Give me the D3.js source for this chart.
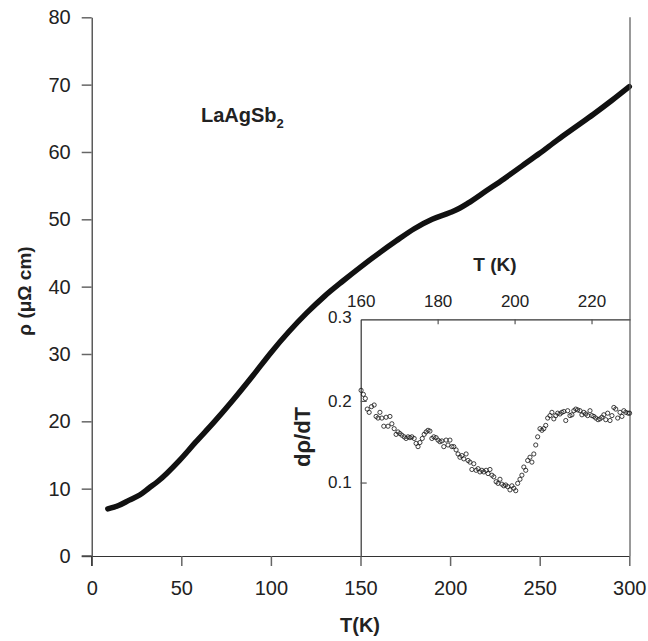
<!DOCTYPE html>
<html><head><meta charset="utf-8">
<script src="https://cdn.jsdelivr.net/npm/d3@7"></script>
<style>body{margin:0;background:#fff}svg{display:block}text{font-family:"Liberation Sans",Arial,sans-serif;fill:#222}</style>
</head><body><svg id="c" width="648" height="641"></svg>
<script>
// Main curve: resistivity vs temperature
const mainT   = [9,15,21,27,32,37,42,49,58,68,79,90,100,110,120,130,140,150,160,170,180,190,200,205,210,220,230,240,250,260,270,280,290,300];
const mainRho = [7.0,7.5,8.3,9.1,10.1,11.1,12.3,14.2,16.9,19.8,23.2,26.8,30.2,33.3,36.1,38.6,40.8,42.9,44.9,46.8,48.6,50.0,51.0,51.6,52.4,54.2,56.0,57.9,59.8,61.8,63.7,65.6,67.6,69.7];
const mainXTicks = [0,50,100,150,200,250,300];
const mainYTicks = [0,10,20,30,40,50,60,70,80];
// Inset: derivative
const insetT = [160.1,160.7,161.2,161.7,162.2,162.8,163.5,164,164.5,165,165.5,166,166.6,167.1,167.6,168.1,168.7,169.2,169.7,170.2,170.7,171.3,171.8,172.3,172.8,173.3,173.9,174.4,174.9,175.4,176,176.5,177,177.5,178,178.5,179,179.6,180.1,180.6,181.1,181.6,182.2,182.7,183.2,183.7,184.2,184.8,185.3,185.8,186.3,186.8,187.4,187.9,188.4,188.9,189.4,190,190.5,191,191.5,192,192.6,193.1,193.6,194.1,194.6,195.2,195.7,196.2,196.7,197.2,197.7,198.2,198.8,199.3,199.8,200.3,200.8,201.4,201.9,202.4,202.9,203.4,204,204.5,205,205.5,206,206.6,207.1,207.6,208.1,208.6,209.2,209.7,210.2,210.7,211.2,211.8,212.3,212.8,213.3,213.8,214.4,214.9,215.4,215.9,216.4,217,217.5,218,218.5,219,219.6,220.1,220.6,221.1,221.7,222.2,222.7,223.2,223.7,224.2,224.8,225.3,225.8,226.3,226.8,227.4,227.9,228.4,228.9,229.5,229.9];
const insetD = [0.213,0.208,0.203,0.190,0.186,0.193,0.195,0.181,0.179,0.186,0.179,0.169,0.180,0.169,0.181,0.172,0.166,0.159,0.162,0.160,0.158,0.156,0.154,0.156,0.155,0.156,0.154,0.148,0.144,0.149,0.154,0.159,0.162,0.164,0.163,0.154,0.156,0.155,0.152,0.150,0.151,0.144,0.152,0.146,0.152,0.144,0.144,0.140,0.135,0.131,0.133,0.129,0.135,0.127,0.125,0.116,0.123,0.115,0.117,0.113,0.115,0.113,0.115,0.111,0.116,0.109,0.107,0.101,0.099,0.104,0.098,0.096,0.097,0.095,0.091,0.096,0.093,0.090,0.099,0.104,0.109,0.119,0.115,0.127,0.131,0.125,0.135,0.146,0.156,0.166,0.164,0.166,0.170,0.179,0.182,0.186,0.178,0.182,0.185,0.184,0.186,0.187,0.176,0.188,0.182,0.183,0.188,0.190,0.189,0.188,0.183,0.186,0.184,0.182,0.188,0.182,0.181,0.179,0.177,0.178,0.180,0.183,0.177,0.185,0.176,0.182,0.192,0.190,0.179,0.186,0.181,0.188,0.186,0.185,0.185];
const insetXTicks = [160,180,200,220];
const insetYTicks = [0.1,0.2,0.3];

const svg = d3.select("#c");
const x = d3.scaleLinear().domain([0,300]).range([91.7,629.3]);
const y = d3.scaleLinear().domain([0,80]).range([556,17.3]);

// main axes
const gx = svg.append("g").attr("transform","translate(0,556)")
  .call(d3.axisBottom(x).tickValues(mainXTicks).tickSize(10).tickPadding(15).tickSizeOuter(0));
const gy = svg.append("g").attr("transform","translate(91.7,0)")
  .call(d3.axisLeft(y).tickValues(mainYTicks).tickSize(10).tickPadding(11).tickSizeOuter(0));
[gx,gy].forEach(g=>{
  g.select(".domain").attr("stroke","#333").attr("stroke-width",1.2);
  g.selectAll(".tick line").attr("stroke","#666").attr("stroke-width",1.5);
  g.selectAll(".tick text").attr("font-size",20).attr("fill","#222").style("font-family","Liberation Sans, Arial, sans-serif");
});
// extend axis lines
svg.append("line").attr("x1",81.7).attr("x2",91.7).attr("y1",556).attr("y2",556).attr("stroke","#333").attr("stroke-width",1.2);
svg.append("line").attr("x1",91.7).attr("x2",91.7).attr("y1",556).attr("y2",566).attr("stroke","#333").attr("stroke-width",1.2);

// main curve
const line = d3.line().x((d,i)=>x(mainT[i])).y((d,i)=>y(mainRho[i])).curve(d3.curveMonotoneX);
svg.append("path").attr("d",line(mainT)).attr("fill","none").attr("stroke","#111")
  .attr("stroke-width",5.5).attr("stroke-linecap","round");

// labels
svg.append("text").attr("x",360).attr("y",632).attr("text-anchor","middle")
  .attr("font-size",20).attr("font-weight","bold").text("T(K)");
svg.append("text").attr("transform","translate(31,291) rotate(-90)").attr("text-anchor","middle")
  .attr("font-size",19).attr("font-weight","bold").text("ρ (μΩ cm)");
const lab = svg.append("text").attr("x",201).attr("y",122).attr("font-size",20).attr("font-weight","bold");
lab.append("tspan").text("LaAgSb");
lab.append("tspan").attr("dy",6).attr("font-size",13).text("2");

// inset
const ix = d3.scaleLinear().domain([160,230]).range([360.7,630]);
const iy = d3.scaleLinear().domain([0.01,0.3]).range([556,319.3]);
const gix = svg.append("g").attr("transform","translate(0,319.3)")
  .call(d3.axisTop(ix).tickValues(insetXTicks).tickSize(-5).tickPadding(12).tickSizeOuter(0));
const giy = svg.append("g").attr("transform","translate(360.7,0)")
  .call(d3.axisLeft(iy).tickValues(insetYTicks).tickFormat(d3.format(".1f")).tickSize(-6).tickPadding(9).tickSizeOuter(0));
[gix,giy].forEach(g=>{
  g.select(".domain").attr("stroke","#333").attr("stroke-width",1.2);
  g.selectAll(".tick line").attr("stroke","#555").attr("stroke-width",1.2);
  g.selectAll(".tick text").attr("font-size",17).attr("fill","#222").style("font-family","Liberation Sans, Arial, sans-serif");
});
gix.selectAll(".tick").filter(d=>d===160).select("line").remove();
giy.selectAll(".tick").filter(d=>d===0.3).select("line").remove();
giy.selectAll(".tick").filter(d=>d===0.3).select("text").attr("dy","0.2em");
// right border line
svg.append("line").attr("x1",630).attr("x2",630).attr("y1",17.3).attr("y2",556).attr("stroke","#555").attr("stroke-width",1.2);

svg.append("g").selectAll("circle").data(insetT).join("circle")
  .attr("cx",(d)=>ix(d)).attr("cy",(d,i)=>iy(insetD[i])).attr("r",2.1)
  .attr("fill","none").attr("stroke","#111").attr("stroke-width",0.8);

svg.append("text").attr("x",495).attr("y",271).attr("text-anchor","middle")
  .attr("font-size",19).attr("font-weight","bold").text("T (K)");
svg.append("text").attr("transform","translate(310,437) rotate(-90)").attr("text-anchor","middle")
  .attr("font-size",22).attr("font-weight","bold").text("dρ/dT");
</script></body></html>
